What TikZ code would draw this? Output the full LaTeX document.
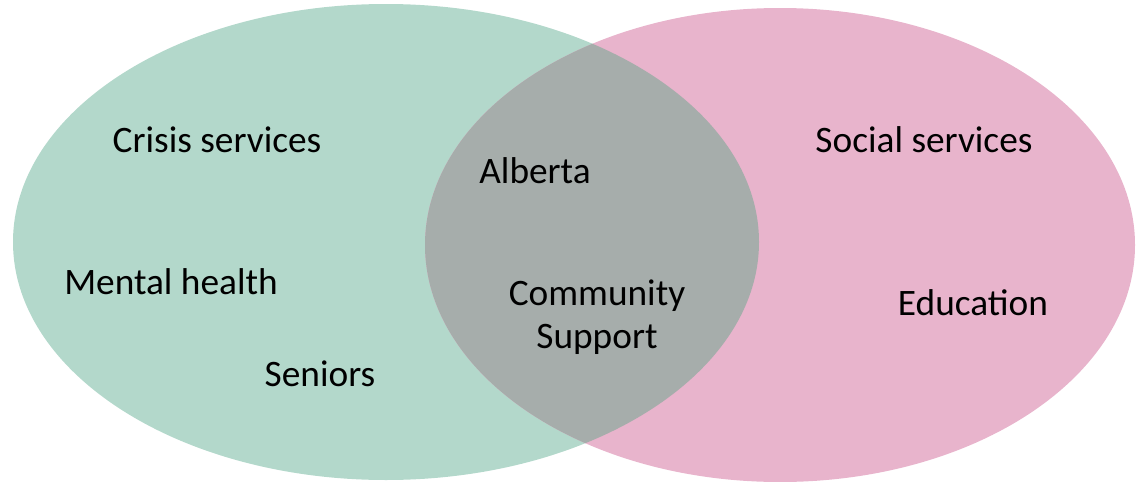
\documentclass[tikz,border=0pt]{standalone}
\usepackage{fontspec}
\setmainfont{Carlito}
\usetikzlibrary{positioning}
\definecolor{greenset}{HTML}{B3D8CB}
\definecolor{pinkset}{HTML}{E8B4CC}
\definecolor{greyset}{HTML}{A6ADAB}

\begin{document}
\begin{tikzpicture}[x=0.75pt, y=-0.75pt,
        lbl/.style={font=\fontsize{28}{32.5}\selectfont, align=center, inner sep=0pt}]
                \useasboundingbox (0,0) rectangle (1136,482);
                \clip (0,0) rectangle (1136,482);
                \fill[greenset] (386,242) ellipse [x radius=373, y radius=238];
                \fill[pinkset] (780,245) ellipse [x radius=355, y radius=237];
                \begin{scope}
                    \clip (386,242) ellipse [x radius=373, y radius=238];
                    \fill[greyset] (780,245) ellipse [x radius=355, y radius=237];
                \end{scope}

                \node[lbl] (crisis) at (217,140) {Crisis services};
                \node[lbl] (mental) at (171,282) {Mental health};
                \node[lbl] (seniors) at (320,374) {Seniors};
                \node[lbl] (alberta) at (535,171) {Alberta};
                \node[lbl] (community) at (597,317) {Community\\Support};
                \node[lbl] (social) at (924,140) {Social services};
                \node[lbl] (education) at (973,303) {Education};
            \end{tikzpicture}
\end{document}
